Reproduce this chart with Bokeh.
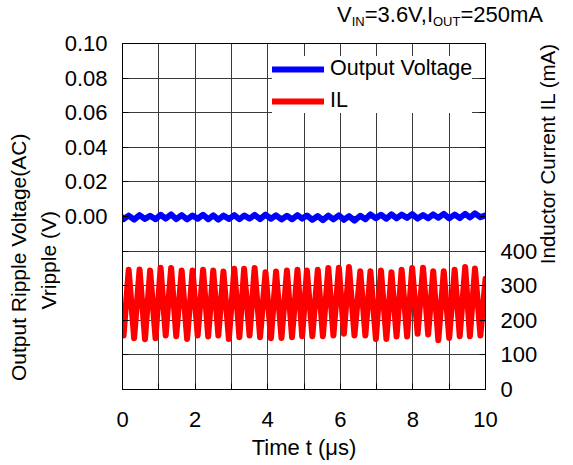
import math
from bokeh.plotting import figure
from bokeh.layouts import column
from bokeh.models import (Range1d, LinearAxis, FixedTicker, CustomJSTickFormatter,
                          Legend, LegendItem, Div)
from bokeh.embed import file_html
from bokeh.resources import INLINE

FONT = "Liberation Sans"
NB = "\u00a0"

# ---- axis ticks ----
time_ticks = [0, 1, 2, 3, 4, 5, 6, 7, 8, 9, 10]
volt_ticks = [-0.10, -0.08, -0.06, -0.04, -0.02, 0.00, 0.02, 0.04, 0.06, 0.08, 0.10]
il_ticks = [0, 100, 200, 300, 400, 500, 600, 700, 800, 900, 1000]

# ---- switching ripple: times of crests and valleys (us) ----
crest_t = [0.17, 0.47, 0.76, 1.05, 1.34, 1.63, 1.93, 2.22, 2.50, 2.78,
           3.08, 3.35, 3.64, 3.94, 4.23, 4.53, 4.82, 5.08, 5.38, 5.67,
           5.96, 6.24, 6.55, 6.83, 7.12, 7.41, 7.69, 7.98, 8.28, 8.56,
           8.85, 9.15, 9.44, 9.71]
valley_t = [0.03, 0.32, 0.62, 0.91, 1.19, 1.48, 1.78, 2.07, 2.36, 2.64,
            2.93, 3.22, 3.50, 3.79, 4.09, 4.38, 4.67, 4.95, 5.23, 5.52,
            5.81, 6.10, 6.39, 6.69, 6.98, 7.27, 7.55, 7.84, 8.13, 8.42,
            8.70, 9.00, 9.29, 9.57, 9.86]

# ---- inductor current (mA) ----
il_crest = [346, 347, 344, 352, 351, 344, 344, 346, 344, 341,
            349, 349, 351, 339, 341, 344, 346, 344, 346, 351,
            352, 354, 342, 342, 344, 339, 346, 351, 352, 342,
            342, 346, 354, 350]
il_valley = [156, 148, 145, 148, 156, 154, 146, 156, 153, 156,
             146, 151, 156, 151, 148, 149, 151, 154, 154, 154,
             156, 161, 156, 156, 146, 146, 153, 153, 161, 159,
             142, 149, 154, 154, 156]
il_ends = [240, 320]          # values at t = 0 and t = 10

# ---- output voltage ripple (V) ----
v_crest = [0.0005, 0.0008, 0.0004, 0.0010, 0.0012, 0.0008, 0.0006, 0.0010, 0.0007, 0.0005,
           0.0008, 0.0006, 0.0009, 0.0011, 0.0007, 0.0004, 0.0008, 0.0006, 0.0003, 0.0005,
           0.0007, 0.0002, 0.0004, 0.0012, 0.0010, 0.0013, 0.0011, 0.0014, 0.0009, 0.0012,
           0.0015, 0.0011, 0.0016, 0.0018]
v_valley = [-0.0015, -0.0018, -0.0014, -0.0016, -0.0012, -0.0015, -0.0017, -0.0013, -0.0016, -0.0018,
            -0.0014, -0.0016, -0.0012, -0.0015, -0.0013, -0.0017, -0.0016, -0.0012, -0.0019, -0.0021,
            -0.0017, -0.0019, -0.0024, -0.0016, -0.0010, -0.0013, -0.0011, -0.0008, -0.0012, -0.0010,
            -0.0007, -0.0011, -0.0009, -0.0006, -0.0004]
v_ends = [-0.0005, 0.0006]

# ---- title pieces (main text and subscripts) ----
title_main = ["V", "=3.6V,I", "=250mA"]
title_sub = ["IN", "OUT"]


def merge(ends, ct, cv, vt, vv):
    pts = [(time_ticks[0], ends[0])] + list(zip(ct, cv)) + list(zip(vt, vv)) + [(time_ticks[-1], ends[1])]
    pts.sort()
    return [q[0] for q in pts], [q[1] for q in pts]


il_t, il_y = merge(il_ends, crest_t, il_crest, valley_t, il_valley)
v_t, v_y = merge(v_ends, crest_t, v_crest, valley_t, v_valley)

# ---------------- title strip (HTML, real text with subscripts) ----------------
TH = 30
sub_style = "font-size:13px;line-height:1;vertical-align:-3.5px;"
title_html = ('<div style="margin-left:337px;margin-top:4px;font-family:\'%s\';font-size:22px;'
              'line-height:22px;white-space:nowrap;color:black;">'
              '%s<span style="%s">%s</span>%s<span style="%s">%s</span>%s</div>'
              % (FONT, title_main[0], sub_style, title_sub[0], title_main[1],
                 sub_style, title_sub[1], title_main[2]))
title_div = Div(text=title_html, width=573, height=TH, margin=0)

# ---------------- main chart ----------------
p = figure(width=573, height=465 - TH, title=None,
           x_range=Range1d(0, 10), y_range=Range1d(-0.10, 0.10),
           output_backend="svg", toolbar_location=None,
           min_border_left=122, min_border_right=84,
           min_border_top=43 - TH, min_border_bottom=76, margin=0)
p.extra_y_ranges = {"il": Range1d(0, 1000)}
p.background_fill_color = "white"
p.border_fill_color = "white"
p.outline_line_color = "black"
p.outline_line_width = 1

rv = p.line(v_t, v_y, line_color="#0000FF", line_width=6, line_cap="round", line_join="round")
ri = p.line(il_t, il_y, y_range_name="il", line_color="#FF0000", line_width=6,
            line_cap="round", line_join="round")

xa = p.xaxis[0]
xa.ticker = FixedTicker(ticks=time_ticks)
xa.formatter = CustomJSTickFormatter(code="var r = Math.round(tick); return (r % 2 === 0) ? r.toString() : '';")
xa.axis_label = "Time t (\u03bcs)"
xa.axis_label_standoff = 5
xa.axis_label_text_font_size = "22px"

ya = p.yaxis[0]
ya.ticker = FixedTicker(ticks=volt_ticks)
ya.formatter = CustomJSTickFormatter(code="return tick < -0.001 ? '' : tick.toFixed(2);")

ra = LinearAxis(y_range_name="il", ticker=FixedTicker(ticks=il_ticks),
                formatter=CustomJSTickFormatter(code="return tick > 400.5 ? '' : tick.toFixed(0);"))
p.add_layout(ra, "right")

for ax, so in ((xa, 22), (ya, 15), (ra, 15)):
    ax.axis_line_color = "black"
    ax.major_tick_line_color = "black"
    ax.major_tick_in = 6
    ax.major_tick_out = 0
    ax.minor_tick_line_color = None
    ax.major_label_text_font = FONT
    ax.major_label_text_font_size = "22px"
    ax.major_label_text_color = "black"
    ax.major_label_standoff = so
    ax.axis_label_text_font = FONT
    ax.axis_label_text_font_style = "normal"
    ax.axis_label_text_color = "black"


def title_axis(text, standoff, side, size, **kw):
    # axis that carries only a title (no line, ticks or tick labels)
    ax = LinearAxis(ticker=FixedTicker(ticks=[]),
                    axis_line_color=None, major_tick_line_color=None, minor_tick_line_color=None,
                    major_tick_in=0, major_tick_out=0, major_label_standoff=0,
                    axis_label=text, axis_label_standoff=standoff,
                    axis_label_text_font=FONT, axis_label_text_font_size=size,
                    axis_label_text_font_style="normal", axis_label_text_color="black", **kw)
    p.add_layout(ax, side)


# left titles: centred on the frame, padded at their upper end so they sit lower
title_axis("Vripple (V)" + NB * 15, 2, "left", "21px",
           axis_label_text_align="center", axis_label_align="center")
title_axis("Output Ripple Voltage(AC)" + NB * 14, 4, "left", "21px",
           axis_label_text_align="center", axis_label_align="center")
# right title: reads bottom-to-top from the frame's bottom, padded at its start
title_axis(NB * 22 + "Inductor Current IL (mA)", 7, "right", "20.5px",
           axis_label_orientation=math.pi / 2, axis_label_align="start")

for g in (p.xgrid[0], p.ygrid[0]):
    g.grid_line_color = "#3a3a3a"
    g.grid_line_width = 1
    g.grid_line_alpha = 1

legend = Legend(items=[LegendItem(label="Output Voltage", renderers=[rv]),
                       LegendItem(label="IL", renderers=[ri])],
                location=(150, 276), margin=0, padding=5, spacing=7,
                glyph_width=52, glyph_height=20, label_height=25, label_standoff=6,
                label_text_font=FONT, label_text_font_size="21.5px", label_text_color="black",
                border_line_color=None, background_fill_color="white", background_fill_alpha=1)
p.add_layout(legend)

layout = column(title_div, p, spacing=0)
open("out.html", "w").write(file_html(layout, INLINE))
